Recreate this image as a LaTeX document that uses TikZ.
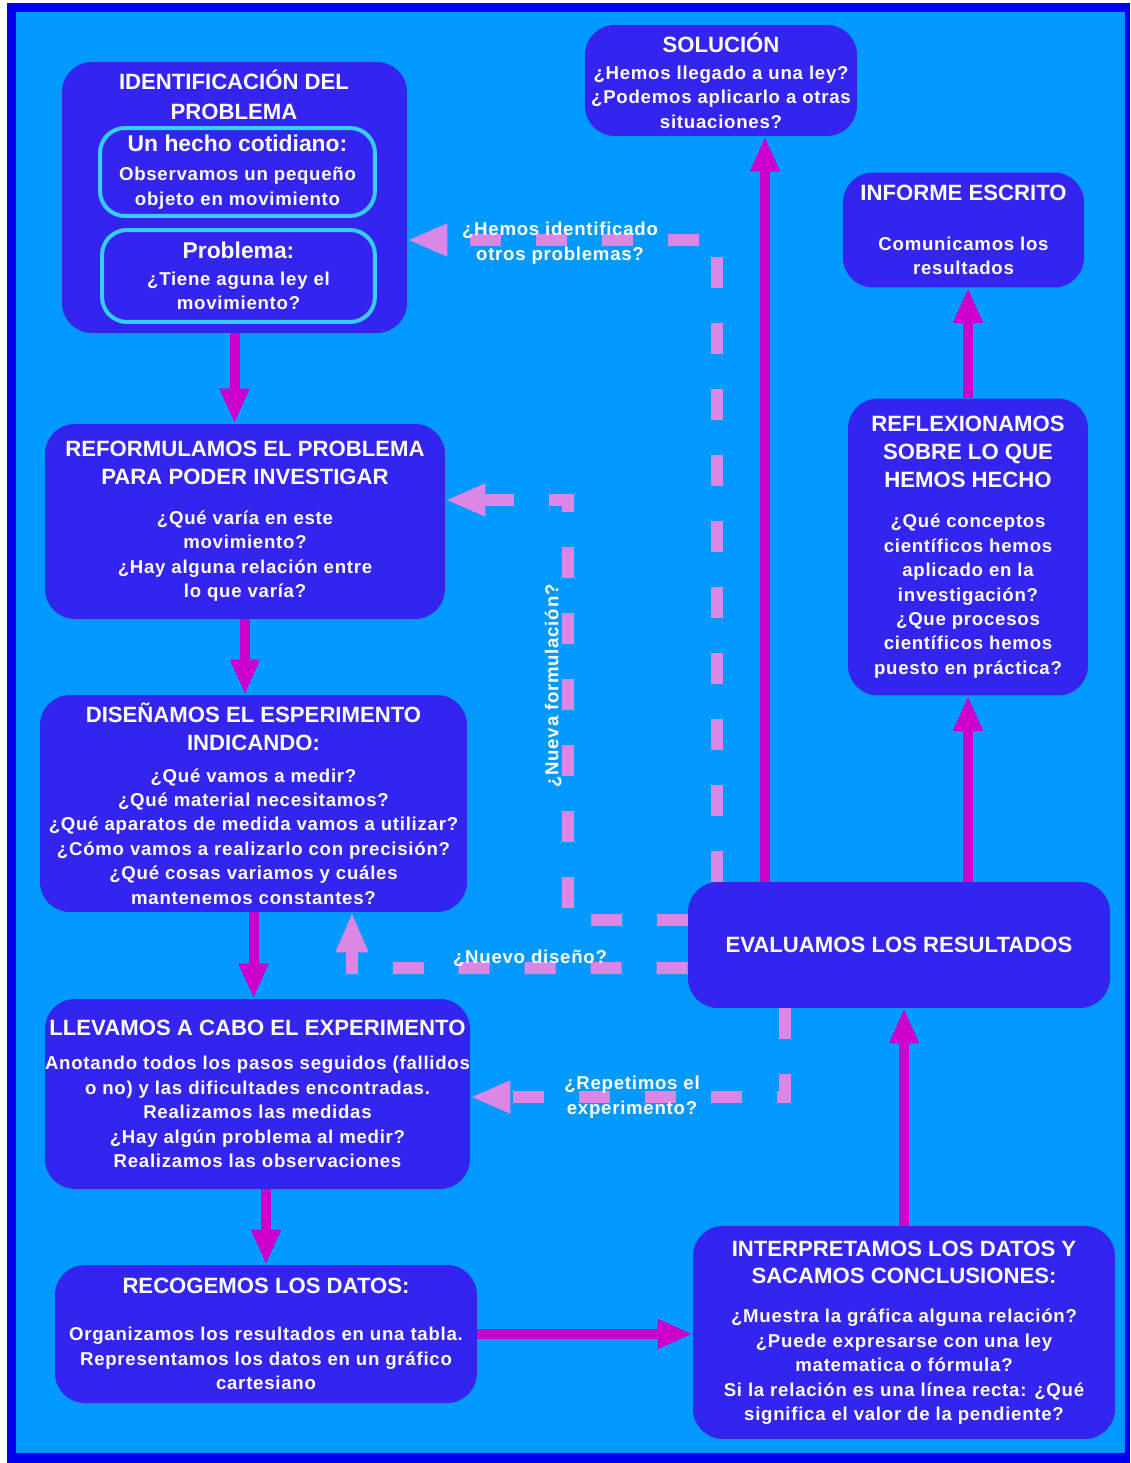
\documentclass[tikz,border=0pt]{standalone}
\usepackage{fontspec}
\setmainfont{Liberation Sans}
\newfontfamily\spacedsans{Liberation Sans}[LetterSpace=4]
\usepackage{tikz}
\usetikzlibrary{arrows.meta}

\definecolor{frameblue}{RGB}{0,0,238}
\definecolor{skyblue}{RGB}{0,153,255}
\definecolor{boxblue}{RGB}{52,36,240}
\definecolor{rimcyan}{RGB}{55,205,255}
\definecolor{flowpink}{RGB}{204,0,204}
\definecolor{backpink}{RGB}{220,135,230}

\newcommand{\boxbody}{\spacedsans\fontsize{10.6}{13.9}\selectfont\bfseries}
\newcommand{\boxhead}{\normalfont\fontsize{12.6}{15.9}\selectfont\bfseries}
\newcommand{\boxbig}{\normalfont\fontsize{13}{16}\selectfont\bfseries}

\begin{document}
\begin{tikzpicture}[x=0.02cm,y=-0.02cm,
    stage/.style={fill=boxblue,rounded corners=0.6cm,text=white,align=center,inner sep=0pt,font=\boxbody},
    inset/.style={draw=rimcyan,line width=0.08cm,fill=boxblue,rounded corners=0.5cm,text=white,align=center,inner sep=0pt,font=\boxbody},
    ask/.style={text=white,align=center,inner sep=0pt,font=\boxbody},
    go/.style={color=flowpink,line width=0.2cm,-{Triangle[length=0.7cm,width=0.55cm]}},
    back/.style={draw=backpink,line width=0.24cm,dash pattern=on 0.62cm off 0.7cm,-{Triangle[length=0.8cm,width=0.6cm]}}]

  \useasboundingbox (0,0) rectangle (1130,1463);
  \fill [white] (0,0) rectangle (1130,1463);
  \fill [frameblue] (7,3) rectangle (1130,1463);
  \fill [skyblue] (16,12) rectangle (1125,1453);

  % boxes
  \node [stage,minimum width=6.9cm,minimum height=5.42cm] (ident) at (234.5,197.5) {};
  \node [ask,font=\boxhead] (identtitle) at (234,95) {IDENTIFICACIÓN DEL\\[1pt] PROBLEMA};
  \node [inset,minimum width=5.5cm,minimum height=1.76cm] (hecho) at (237.5,172)
    {{\boxbig Un hecho cotidiano:}\\[3pt] Observamos un pequeño\\ objeto en movimiento};
  \node [inset,minimum width=5.46cm,minimum height=1.84cm] (problema) at (238.5,276)
    {{\boxbig Problema:}\\[1.4pt] ¿Tiene aguna ley el\\ movimiento?};

  \node [stage,minimum width=5.44cm,minimum height=2.22cm] (solucion) at (721,80.5)
    {{\boxhead SOLUCIÓN}\\[1.4pt] ¿Hemos llegado a una ley?\\ ¿Podemos aplicarlo a otras\\ situaciones?};
  \node [stage,minimum width=4.82cm,minimum height=2.3cm] (informe) at (963.5,230)
    {{\boxhead INFORME ESCRITO}\\[14.4pt] Comunicamos los\\ resultados};
  \node [stage,minimum width=4.8cm,minimum height=5.94cm] (reflex) at (968,547)
    {{\boxhead REFLEXIONAMOS}\\[2pt] {\boxhead SOBRE LO QUE}\\[2pt] {\boxhead HEMOS HECHO}\\[9.3pt]
     ¿Qué conceptos\\ científicos hemos\\ aplicado en la\\ investigación?\\ ¿Que procesos\\ científicos hemos\\ puesto en práctica?};

  \node [stage,minimum width=8cm,minimum height=3.9cm] (reform) at (245,521.5)
    {{\boxhead REFORMULAMOS EL PROBLEMA}\\[2pt] {\boxhead PARA PODER INVESTIGAR}\\[8.8pt]
     ¿Qué varía en este\\ movimiento?\\ ¿Hay alguna relación entre\\ lo que varía?};
  \node [stage,minimum width=8.54cm,minimum height=4.34cm] (diseno) at (253.5,803.5)
    {{\boxhead DISEÑAMOS EL ESPERIMENTO}\\[2pt] {\boxhead INDICANDO:}\\[4.2pt]
     ¿Qué vamos a medir?\\ ¿Qué material necesitamos?\\ ¿Qué aparatos de medida vamos a utilizar?\\
     ¿Cómo vamos a realizarlo con precisión?\\ ¿Qué cosas variamos y cuáles\\ mantenemos constantes?};
  \node [stage,minimum width=8.44cm,minimum height=2.52cm] (eval) at (899,945)
    {{\boxhead EVALUAMOS LOS RESULTADOS}};
  \node [stage,minimum width=8.5cm,minimum height=3.8cm] (llevamos) at (257.5,1094)
    {{\boxhead LLEVAMOS A CABO EL EXPERIMENTO}\\[5.4pt]
     Anotando todos los pasos seguidos (fallidos\\ o no) y las dificultades encontradas.\\
     Realizamos las medidas\\ ¿Hay algún problema al medir?\\ Realizamos las observaciones};
  \node [stage,minimum width=8.44cm,minimum height=2.76cm] (recog) at (266,1334)
    {{\boxhead RECOGEMOS LOS DATOS:}\\[12.7pt]
     Organizamos los resultados en una tabla.\\ Representamos los datos en un gráfico\\ cartesiano};
  \node [stage,minimum width=8.44cm,minimum height=4.26cm] (interp) at (904,1332.5)
    {{\boxhead INTERPRETAMOS LOS DATOS Y}\\[2pt] {\boxhead SACAMOS CONCLUSIONES:}\\[8.2pt]
     ¿Muestra la gráfica alguna relación?\\ ¿Puede expresarse con una ley\\ matematica o fórmula?\\
     Si la relación es una línea recta: ¿Qué\\ significa el valor de la pendiente?};

  % main flow
  \coordinate (soltip) at ([xshift=0.88cm]solucion.south);
  \path [go]
    (ident.south)    edge (ident.south |- reform.north)
    (reform.south)   edge (reform.south |- diseno.north)
    (diseno.south)   edge (diseno.south |- llevamos.north)
    (recog.north |- llevamos.south) edge (recog.north)
    (recog.east)     edge (recog.east -| interp.west)
    (interp.north)   edge (interp.north |- eval.south)
    (eval.north -| soltip) edge (soltip)
    (eval.north -| reflex.south) edge (reflex.south)
    (reflex.north)   edge (reflex.north |- informe.south);

  % going back
  \coordinate (hemosbend) at (717,240);
  \coordinate (nuevabend) at (568,500);
  \coordinate (disenobend) at (352,968);
  \coordinate (repebend) at (785,1097);
  \draw [back] (eval.north -| hemosbend) |- (ident.east |- hemosbend);
  \draw [back] ([yshift=0.5cm]eval.west) -| (nuevabend) -- (reform.east |- nuevabend);
  \draw [back] ([yshift=-0.46cm]eval.west) -- (disenobend) -- (diseno.south -| disenobend);
  \draw [back] (eval.south -| repebend) |- (llevamos.east |- repebend);

  \node [ask] (hemoslab) at (560,243) {¿Hemos identificado\\ otros problemas?};
  \node [ask,rotate=90] (nuevalab) at (553,686) {¿Nueva formulación?};
  \node [ask] (disenolab) at (530,958) {¿Nuevo diseño?};
  \node [ask] (repelab) at (632,1097) {¿Repetimos el\\ experimento?};

\end{tikzpicture}
\end{document}
